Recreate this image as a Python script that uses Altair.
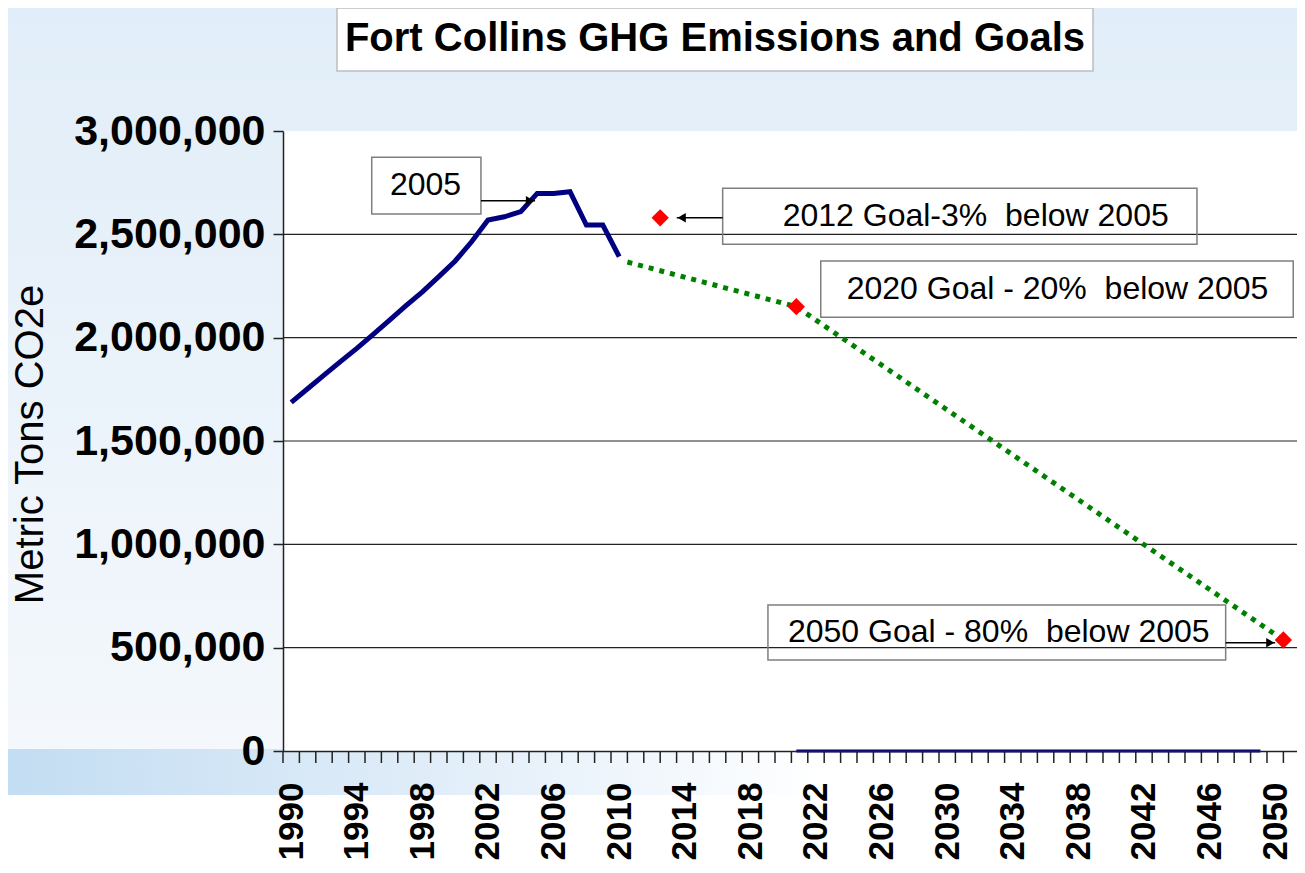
import altair as alt
import pandas as pd

# ---------------- data ----------------
hist_years = list(range(1990, 2011))
hist_values = [1687000, 1753000, 1819000, 1884000, 1948000, 2016000, 2085000,
               2155000, 2222000, 2295000, 2371000, 2464000, 2569000, 2585000,
               2610000, 2698000, 2698000, 2706000, 2545000, 2545000, 2392000]

trend_years = [2010.5, 2020.8, 2050.5]
trend_values = [2366000, 2150000, 537000]

goal_years = [2012.5, 2020.8, 2050.5]
goal_values = [2580000, 2150000, 537000]

zero_years = [2020.8, 2049.1]
zero_values = [0, 0]

y_ticks = [0, 500000, 1000000, 1500000, 2000000, 2500000, 3000000]
x_label_years = list(range(1990, 2051, 4))
x_tick_years = [1989.5 + i for i in range(62)]

# annotation boxes (data coordinates)
box_x1 = [1994.91, 2016.31, 2022.29, 2019.07]
box_x2 = [2001.57, 2045.23, 2051.10, 2046.98]
box_y1 = [2872700, 2722700, 2371000, 706400]
box_y2 = [2598400, 2451700, 2098500, 440300]

ann_text = ["2005", "2012 Goal-3%\u00a0 below 2005", "2020 Goal - 20%\u00a0 below 2005",
            "2050 Goal - 80%\u00a0 below 2005"]
ann_x = [1996.02, 2019.97, 2023.87, 2020.29]
ann_y = [2738700, 2589700, 2235500, 577300]

arrow_x1 = [2001.57, 2016.31, 2046.98]
arrow_x2 = [2004.87, 2013.51, 2050.0]
arrow_y = [2662700, 2580500, 524000]
head_x = [2004.56, 2013.81, 2049.7]
head_shape = ["triangle-right", "triangle-left", "triangle-right"]

title_text = "Fort Collins GHG Emissions and Goals"

# ---------------- layout ----------------
W, H = 1014, 620
FONT = "Liberation Sans, Arial, sans-serif"

x_scale = alt.Scale(domain=[1989.5, 2051.33], nice=False, zero=False)
y_scale = alt.Scale(domain=[0, 3000000], nice=False, zero=False)

x_axis = alt.Axis(values=x_label_years, labelAngle=270, labelAlign="right",
                  labelBaseline="middle", format="d", labelFont=FONT,
                  labelFontWeight="bold", labelFontSize=35, labelPadding=31,
                  ticks=False, tickSize=0, domainColor="#222", domainWidth=1.5,
                  grid=False, labelFlush=False, labelOverlap=False, labelLimit=0,
                  title=None, zindex=1, labelColor="black")
y_axis = alt.Axis(values=y_ticks, format=",d", labelFont=FONT, labelFontWeight="bold",
                  labelFontSize=43, tickSize=10, tickColor="#222", tickWidth=1.5,
                  labelPadding=8, domainColor="#222", domainWidth=1.5, grid=False,
                  labelFlush=False, labelOverlap=False, labelLimit=0,
                  title="Metric Tons CO2e", titleFont=FONT, titleFontWeight="normal",
                  titleFontSize=40, titleAngle=270, titleX=-253, titleY=313,
                  titleAlign="center", titleBaseline="middle", titleColor="black",
                  titleLimit=0, zindex=1, labelColor="black")


def X(field):
    return alt.X(field, type="quantitative", scale=x_scale, axis=x_axis)


def Y(field):
    return alt.Y(field, type="quantitative", scale=y_scale, axis=y_axis)


one = pd.DataFrame({"a": [0]})

bg = alt.Chart(one).mark_rect(
    color=alt.LinearGradient(gradient="linear", x1=0, x2=0, y1=0, y2=1,
                             stops=[alt.GradientStop(color="#e1edf8", offset=0),
                                    alt.GradientStop(color="#f4f8fc", offset=1)])
).encode(x=alt.value(-275), x2=alt.value(W), y=alt.value(-123), y2=alt.value(618))

band = alt.Chart(one).mark_rect(
    color=alt.LinearGradient(gradient="linear", x1=0, x2=1, y1=0, y2=0,
                             stops=[alt.GradientStop(color="#c3ddf2", offset=0),
                                    alt.GradientStop(color="#e2eef9", offset=0.55),
                                    alt.GradientStop(color="#ffffff", offset=1)])
).encode(x=alt.value(-275), x2=alt.value(540), y=alt.value(618), y2=alt.value(664))

plot_bg = alt.Chart(one).mark_rect(color="white").encode(
    x=alt.value(0), x2=alt.value(W), y=alt.value(0), y2=alt.value(H))

grid_df = pd.DataFrame({"value": y_ticks[1:-1]})
grid = alt.Chart(grid_df).mark_rule(color="#222", strokeWidth=1.2).encode(
    y=Y("value"), x=alt.value(0), x2=alt.value(W))

tick_df = pd.DataFrame({"year": x_tick_years})
xticks = alt.Chart(tick_df).mark_rule(color="#222", strokeWidth=1.5).encode(
    x=X("year"), y=alt.value(H), y2=alt.value(H + 12))

zero_df = pd.DataFrame({"year": zero_years, "value": zero_values})
zero_line = alt.Chart(zero_df).mark_line(color="#000080", strokeWidth=3).encode(
    x=X("year"), y=Y("value"))

hist_df = pd.DataFrame({"year": hist_years, "value": hist_values})
hist = alt.Chart(hist_df).mark_line(color="#000080", strokeWidth=5).encode(
    x=X("year"), y=Y("value"))

trend_df = pd.DataFrame({"year": trend_years, "value": trend_values})
trend = alt.Chart(trend_df).mark_line(color="#008000", strokeWidth=5,
                                      strokeDash=[5, 6]).encode(
    x=X("year"), y=Y("value"))

goal_df = pd.DataFrame({"year": goal_years, "value": goal_values})
goals = alt.Chart(goal_df).mark_point(shape="diamond", filled=True, color="#ff0000",
                                      size=300, opacity=1).encode(
    x=X("year"), y=Y("value"))

box_df = pd.DataFrame({"x1": box_x1, "x2": box_x2, "y1": box_y1, "y2": box_y2})
boxes = alt.Chart(box_df).mark_rect(fillOpacity=0, stroke="#7f7f7f",
                                    strokeWidth=1.5).encode(
    x=X("x1"), x2="x2", y=Y("y1"), y2="y2")

arrow_df = pd.DataFrame({"x1": arrow_x1, "x2": arrow_x2, "value": arrow_y,
                         "hx": head_x, "shape": head_shape})
shafts = alt.Chart(arrow_df).mark_rule(color="black", strokeWidth=1.5).encode(
    x=X("x1"), x2="x2", y=Y("value"))
heads = alt.Chart(arrow_df).mark_point(filled=True, color="black", size=90,
                                       opacity=1).encode(
    x=X("hx"), y=Y("value"),
    shape=alt.Shape("shape:N", scale=None, legend=None))

ann_df = pd.DataFrame({"year": ann_x, "value": ann_y, "label": ann_text})
texts = alt.Chart(ann_df).mark_text(font=FONT, fontSize=32, align="left",
                                    baseline="middle", color="black").encode(
    x=X("year"), y=Y("value"), text="label:N")

title_box = alt.Chart(one).mark_rect(color="white", stroke="#bdbdbd",
                                     strokeWidth=1.5).encode(
    x=alt.value(54), x2=alt.value(810), y=alt.value(-123), y2=alt.value(-60))

title_df = pd.DataFrame({"t": [title_text]})
title = alt.Chart(title_df).mark_text(
    font=FONT, fontWeight="bold", fontSize=40, align="center", baseline="middle",
    color="black").encode(x=alt.value(432), y=alt.value(-92), text="t:N")

chart = alt.layer(bg, band, plot_bg, grid, xticks, zero_line, hist, trend, goals,
                  boxes, shafts, heads, texts, title_box, title).properties(
    width=W, height=H,
    autosize=alt.AutoSizeParams(type="none"),
    padding={"left": 275, "top": 123, "right": 0, "bottom": 114},
    background="white",
).configure_view(stroke=None)

chart.save("out.html", embed_options={"renderer": "svg", "actions": False})
